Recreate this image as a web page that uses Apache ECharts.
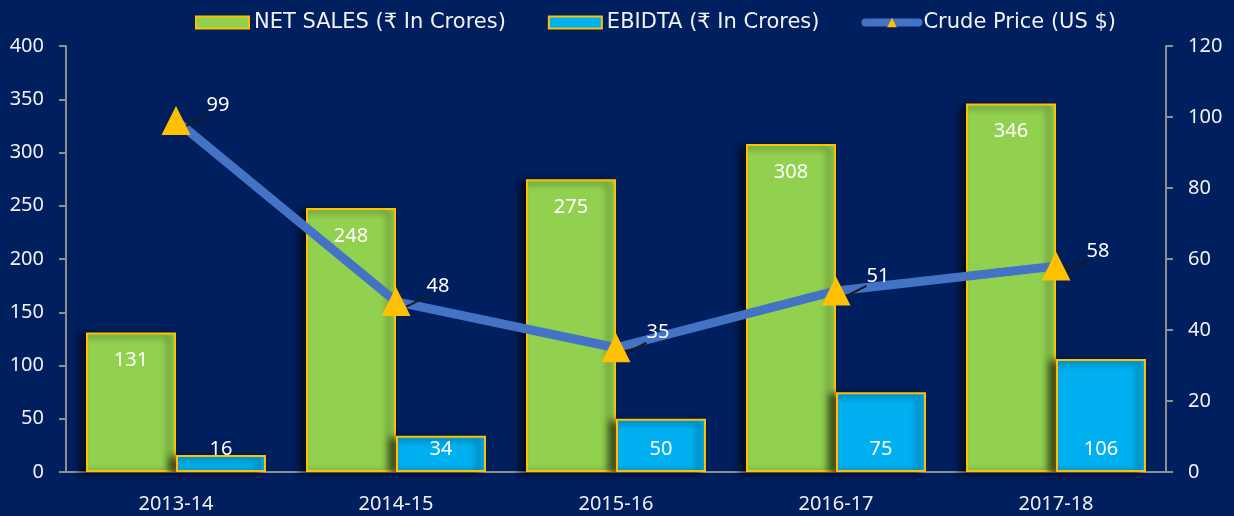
<!DOCTYPE html>
<html>
<head>
<meta charset="utf-8">
<script src="https://cdn.jsdelivr.net/npm/echarts@6/dist/echarts.min.js"></script>
<style>
  html, body { margin: 0; padding: 0; background: #001F5E; }
  #main { width: 1234px; height: 516px; }
</style>
</head>
<body>
<div id="main"></div>
<script>
const years = ['2013-14', '2014-15', '2015-16', '2016-17', '2017-18']
const netSales = [131, 248, 275, 308, 346]
const ebidta = [16, 34, 50, 75, 106]
const crudePrice = [99, 48, 35, 51, 58]

const chartDom = document.getElementById('main');
const myChart = echarts.init(chartDom);
const labelFont = '"Noto Sans", "Open Sans", sans-serif'
const legendFont = '"DejaVu Sans", sans-serif'
const axisColor = '#8f8f8f'

const barShadow = {
  shadowColor: 'rgba(0,0,0,0.65)',
  shadowBlur: 7,
  shadowOffsetX: -6,
  shadowOffsetY: 2
}

const option = {
  backgroundColor: '#001F5E',
  animation: false,
  textStyle: { fontFamily: labelFont },
  legend: {
    top: 7,
    left: 190,
    itemWidth: 53,
    itemHeight: 12,
    itemGap: 42,
    textStyle: { color: '#f2f2f2', fontSize: 21, fontFamily: legendFont },
    data: [
      { name: 'NET SALES (₹ In Crores)', icon: 'rect' },
      { name: 'EBIDTA (₹ In Crores)', icon: 'rect' },
      { name: 'Crude Price (US $)', lineStyle: { width: 8, cap: 'round' } }
    ]
  },
  grid: { left: 66, right: 68, top: 46, bottom: 44 },
  xAxis: {
    type: 'category',
    data: years,
    axisLine: { lineStyle: { color: axisColor, width: 2 } },
    axisTick: { show: false },
    axisLabel: { color: '#f2f2f2', fontSize: 20, margin: 22, fontFamily: labelFont }
  },
  yAxis: [
    {
      type: 'value',
      min: 0, max: 400, interval: 50,
      splitLine: { show: false },
      axisLine: { show: true, lineStyle: { color: axisColor, width: 2 } },
      axisTick: { show: true, length: 7, lineStyle: { color: axisColor, width: 2 } },
      axisLabel: { color: '#f2f2f2', fontSize: 20, margin: 22, fontFamily: labelFont }
    },
    {
      type: 'value',
      min: 0, max: 120, interval: 20,
      splitLine: { show: false },
      axisLine: { show: true, lineStyle: { color: axisColor, width: 2 } },
      axisTick: { show: true, length: 7, lineStyle: { color: axisColor, width: 2 } },
      axisLabel: { color: '#f2f2f2', fontSize: 20, margin: 22, fontFamily: labelFont }
    }
  ],
  series: [
    {
      name: 'NET SALES (₹ In Crores)',
      type: 'bar',
      data: netSales,
      barWidth: 90,
      barGap: '0%',
      itemStyle: Object.assign({ color: '#92D050', borderColor: '#FFC000', borderWidth: 2 }, barShadow),
      label: {
        show: true,
        position: 'insideTop',
        distance: 18,
        color: '#ffffff',
        fontSize: 20,
        fontFamily: labelFont
      }
    },
    {
      name: 'EBIDTA (₹ In Crores)',
      type: 'bar',
      data: ebidta,
      barWidth: 90,
      itemStyle: Object.assign({ color: '#00B0F0', borderColor: '#FFC000', borderWidth: 2 }, barShadow),
      label: {
        show: true,
        position: 'insideBottom',
        distance: 13,
        color: '#ffffff',
        fontSize: 20,
        fontFamily: labelFont
      }
    },
    {
      name: 'Crude Price (US $)',
      type: 'line',
      yAxisIndex: 1,
      data: crudePrice,
      symbol: 'triangle',
      symbolSize: 29,
      z: 5,
      lineStyle: { color: '#4472C4', width: 9 },
      itemStyle: { color: '#FFC000' },
      label: {
        show: true,
        position: 'right',
        distance: 4,
        offset: [12, -15],
        color: '#ffffff',
        fontSize: 20,
        fontFamily: labelFont
      },
      labelLine: { show: true, lineStyle: { color: '#1a1a1a', width: 2 } }
    }
  ]
}
option && myChart.setOption(option);
</script>
</body>
</html>
